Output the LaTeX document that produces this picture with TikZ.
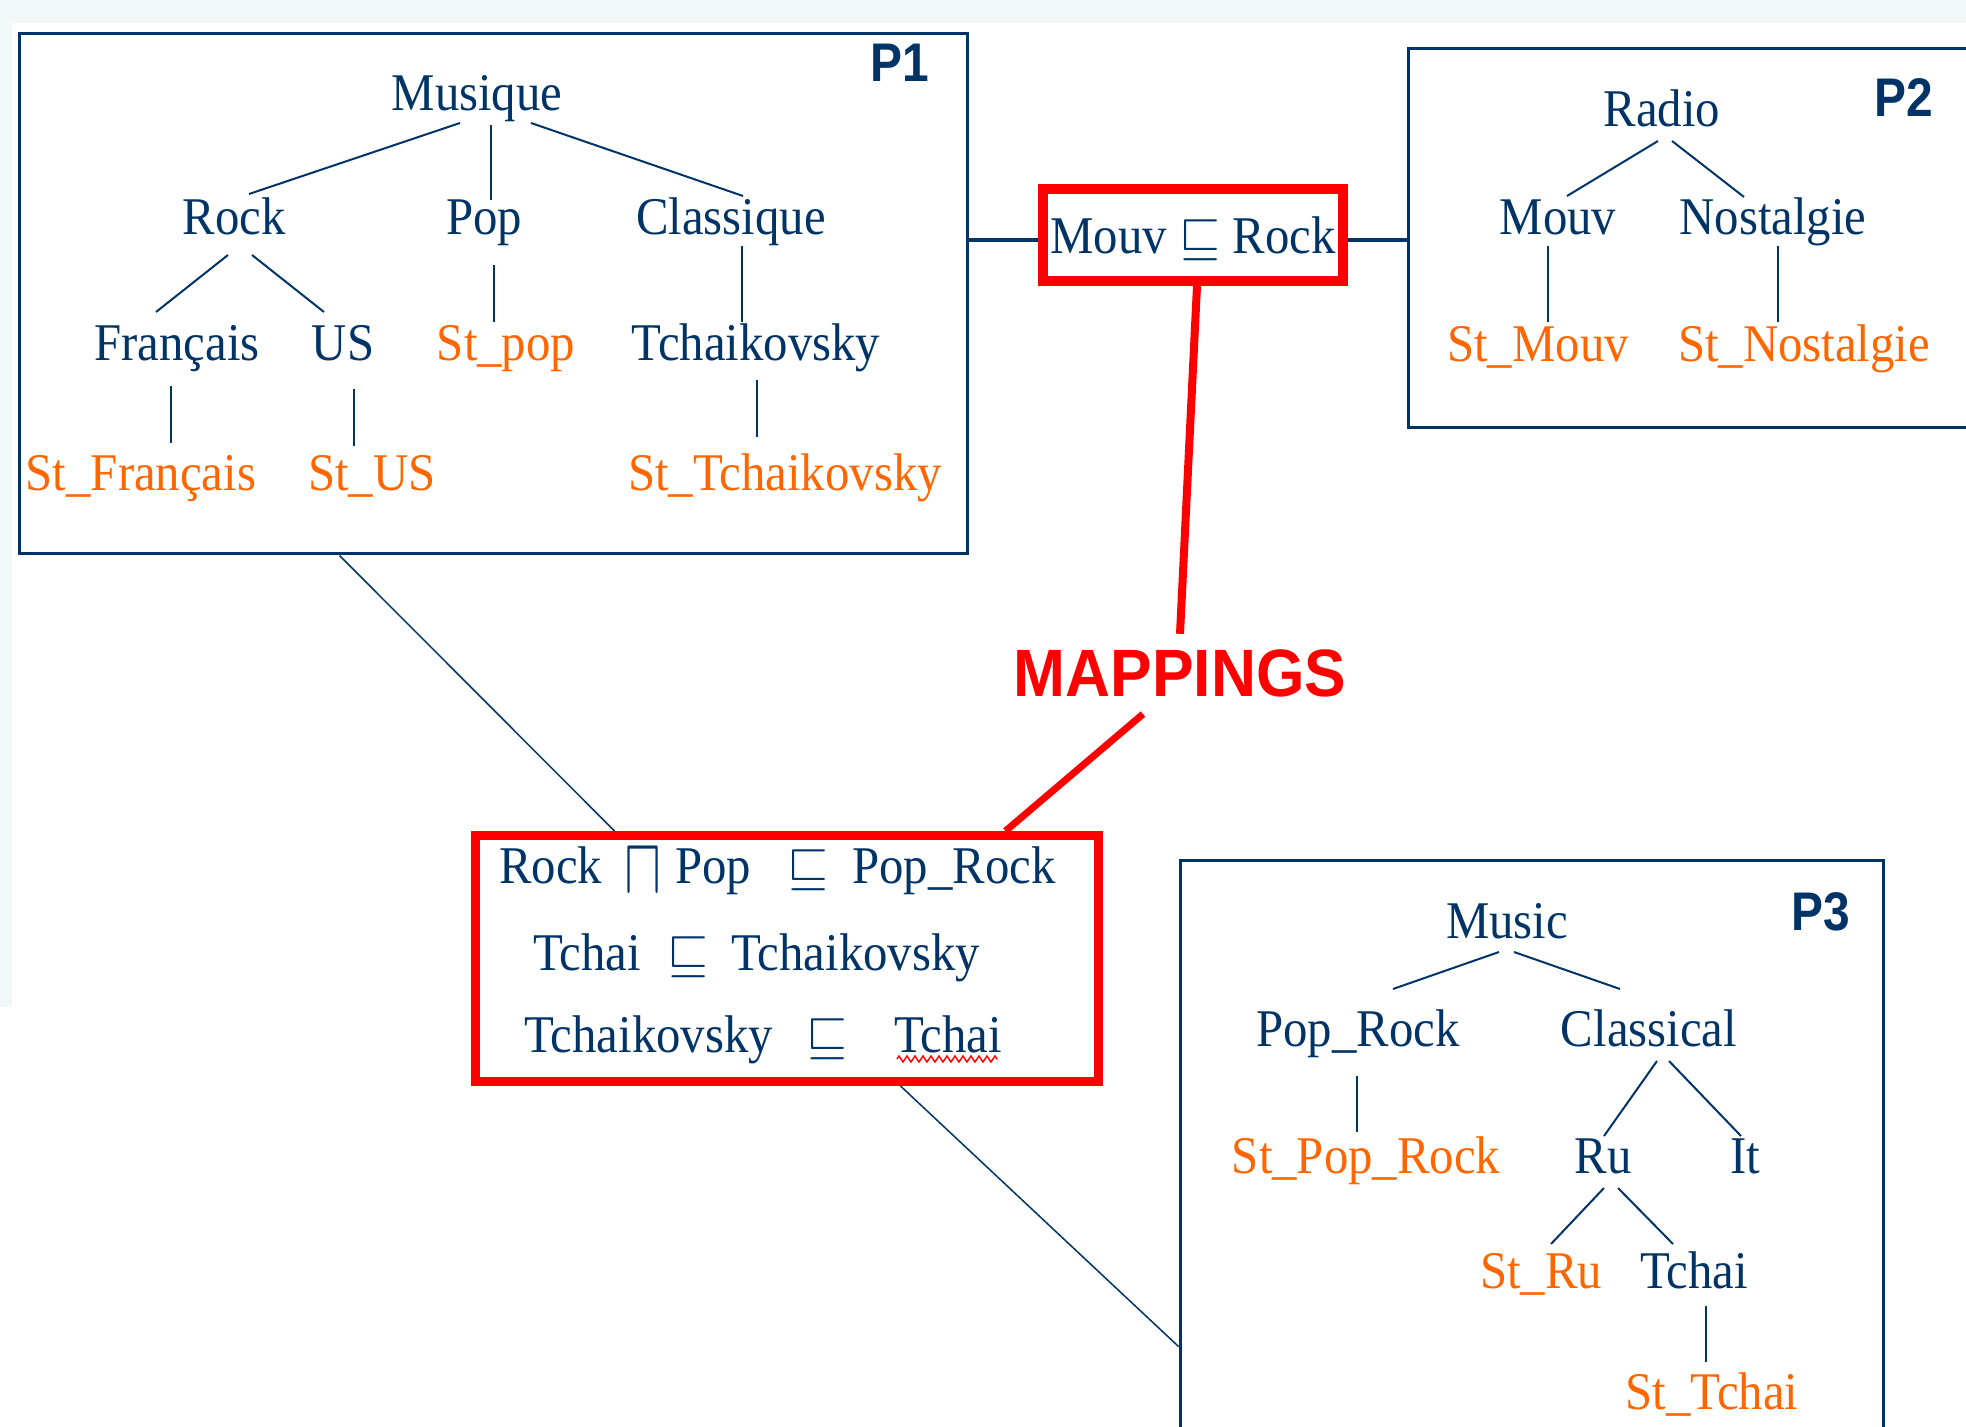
\RequirePackage{fix-cm}
\documentclass[tikz,border=0pt]{standalone}
\usepackage{fontspec}
\setmainfont{Liberation Serif}[FakeStretch=0.92]
\newfontfamily\plabfont{Liberation Sans}[FakeStretch=0.88]
\newfontfamily\mapfont{Liberation Sans}[FakeStretch=0.93]
\usetikzlibrary{backgrounds,decorations.pathmorphing}
\definecolor{navy}{RGB}{0,51,102}
\definecolor{orng}{RGB}{255,102,0}
\definecolor{bgstrip}{RGB}{242,247,247}
\begin{document}
\begin{tikzpicture}[x=0.5pt,y=-0.5pt,
  lab/.style={anchor=base, inner sep=0pt, text=navy, font=\fontsize{26.5}{30}\selectfont},
  stl/.style={lab, text=orng},
  bx/.style={lab, anchor=base west},
  edge/.style={draw=navy, line width=1pt},
  thinlink/.style={draw=navy, line width=0.75pt},
  pbox/.style={draw=navy, line width=1.5pt, inner sep=0pt},
  redbox/.style={draw=red, inner sep=0pt},
  plab/.style={anchor=base, inner sep=0pt, text=navy, font=\plabfont\bfseries\fontsize{27.2}{30}\selectfont},
  redlink/.style={draw=red, line width=4pt}
]
\useasboundingbox (0,0) rectangle (1966,1427);
\fill[bgstrip] (0,0) rectangle (1966,23);
\fill[bgstrip] (0,23) rectangle (12,1007);

% ---------- frames ----------
\node[pbox, minimum width=473.75pt, minimum height=260.25pt] (P1) at (493.25,293.75) {};
\node[pbox, minimum width=296pt, minimum height=189.5pt] (P2) at (1704,238.5) {};
\node[pbox, minimum width=351.75pt, minimum height=299.75pt] (P3) at (1531.75,1160.25) {};

\node[plab] (p1l) at (900,82) {P1};
\node[plab] (p2l) at (1904,117) {P2};
\node[plab] (p3l) at (1821,930) {P3};

% ---------- P1 tree ----------
\node[lab] (mus) at (477,111) {Musique};
\node[lab] (rock) at (234,235) {Rock};
\node[lab] (pop) at (484,235) {Pop};
\node[lab] (cla) at (731,235) {Classique};
\node[lab] (fra) at (177,361) {Français};
\node[lab] (us) at (343,361) {US};
\node[stl] (stpop) at (506,361) {St\_pop};
\node[lab] (tch) at (756,361) {Tchaikovsky};
\node[stl] (stfra) at (141,491) {St\_Français};
\node[stl] (stus) at (372,491) {St\_US};
\node[stl] (sttch) at (785,491) {St\_Tchaikovsky};

\draw[edge] ([shift={(-17,12)}]mus.base) -- ([shift={(15,-41)}]rock.base);
\draw[edge] ([shift={(14,14)}]mus.base) -- ([shift={(7,-35)}]pop.base);
\draw[edge] ([shift={(54,12)}]mus.base) -- ([shift={(12,-39)}]cla.base);
\draw[edge] ([shift={(-6,20)}]rock.base) -- ([shift={(-21,-49)}]fra.base);
\draw[edge] ([shift={(18,20)}]rock.base) -- ([shift={(-19,-49)}]us.base);
\draw[edge] ([shift={(10,30)}]pop.base) -- ([shift={(-12,-39)}]stpop.base);
\draw[edge] ([shift={(11,11)}]cla.base) -- ([shift={(-14,-39)}]tch.base);
\draw[edge] ([shift={(-6,25)}]fra.base) -- ([shift={(30,-48)}]stfra.base);
\draw[edge] ([shift={(11,28)}]us.base) -- ([shift={(-18,-45)}]stus.base);
\draw[edge] ([shift={(1,19)}]tch.base) -- ([shift={(-28,-54)}]sttch.base);

% ---------- P2 tree ----------
\node[lab] (radio) at (1662,127) {Radio};
\node[lab] (mouv) at (1558,235) {Mouv};
\node[lab] (nos) at (1773,235) {Nostalgie};
\node[stl] (stmouv) at (1538,362) {St\_Mouv};
\node[stl] (stnos) at (1804,362) {St\_Nostalgie};

\draw[edge] ([shift={(-4,14)}]radio.base) -- ([shift={(9,-39)}]mouv.base);
\draw[edge] ([shift={(10,14)}]radio.base) -- ([shift={(-29,-38)}]nos.base);
\draw[edge] ([shift={(-10,11)}]mouv.base) -- ([shift={(10,-40)}]stmouv.base);
\draw[edge] ([shift={(5,11)}]nos.base) -- ([shift={(-26,-40)}]stnos.base);

% ---------- P3 tree ----------
\node[lab] (music) at (1507,938) {Music};
\node[lab] (poprock) at (1358,1046) {Pop\_Rock};
\node[lab] (classical) at (1649,1046) {Classical};
\node[stl] (stpr) at (1366,1173) {St\_Pop\_Rock};
\node[lab] (ru) at (1603,1173) {Ru};
\node[lab] (it) at (1745,1173) {It};
\node[stl] (stru) at (1541,1288) {St\_Ru};
\node[lab] (tchai) at (1694,1288) {Tchai};
\node[stl] (sttchai) at (1712,1409) {St\_Tchai};

\draw[edge] ([shift={(-8,14)}]music.base) -- ([shift={(35,-57)}]poprock.base);
\draw[edge] ([shift={(7,14)}]music.base) -- ([shift={(-29,-57)}]classical.base);
\draw[edge] ([shift={(-1,30)}]poprock.base) -- ([shift={(-9,-41)}]stpr.base);
\draw[edge] ([shift={(8,15)}]classical.base) -- ([shift={(1,-37)}]ru.base);
\draw[edge] ([shift={(20,15)}]classical.base) -- ([shift={(-4,-37)}]it.base);
\draw[edge] ([shift={(1,15)}]ru.base) -- ([shift={(10,-44)}]stru.base);
\draw[edge] ([shift={(15,15)}]ru.base) -- ([shift={(-21,-44)}]tchai.base);
\draw[edge] ([shift={(12,18)}]tchai.base) -- ([shift={(-6,-47)}]sttchai.base);

% ---------- mapping boxes ----------
\node[redbox, line width=5pt, minimum width=150pt, minimum height=46pt,
      text height=19pt, text depth=0pt, text=navy, font=\fontsize{26.5}{30}\selectfont]
      (mr) at (1193,235) {Mouv $\sqsubseteq$ Rock};

\node[redbox, line width=4.5pt, minimum width=311.5pt, minimum height=123pt] (mb) at (787,958.5) {};

\node[bx] (b1a) at (499,883) {Rock};
\node[bx] (b1b) at (624,883) {\raisebox{-5.5pt}{\scalebox{1.05}[1.5]{$\sqcap$}}};
\node[bx] (b1c) at (675,883) {Pop};
\node[bx] (b1d) at (787,883) {$\sqsubseteq$};
\node[bx] (b1e) at (852,883) {Pop\_Rock};
\node[bx] (b2a) at (533,970) {Tchai};
\node[bx] (b2b) at (667,970) {$\sqsubseteq$};
\node[bx] (b2c) at (731,970) {Tchaikovsky};
\node[bx] (b3a) at (524,1052) {Tchaikovsky};
\node[bx] (b3b) at (806,1052) {$\sqsubseteq$};
\node[bx] (b3c) at (894,1052) {Tchai};
\draw[red, line width=0.75pt, decorate, decoration={zigzag, amplitude=1.5pt, segment length=4pt}]
  ([shift={(3,7)}]b3c.base west) -- ([shift={(-5,7)}]b3c.base east);

\node[anchor=base, inner sep=8pt, text=red, font=\mapfont\bfseries\fontsize{33.5}{36}\selectfont]
  (map) at (1180,697) {MAPPINGS};

% ---------- connectors ----------
\begin{scope}[on background layer]
  \coordinate (cy) at ([shift={(0,5)}]mr.west);
  \coordinate (cz) at ([shift={(0,5)}]mr.east);
  \draw[draw=navy, line width=2pt] (P1.east |- cy) -- (cy);
  \draw[draw=navy, line width=2pt] (cz) -- (P2.west |- cz);
  \draw[thinlink] ([shift={(321.5,0)}]P1.south west) -- ([shift={(143.5,0)}]mb.north west);
  \draw[thinlink] ([shift={(429.5,0)}]mb.south west) -- ([shift={(0,487.5)}]P3.north west);
  \draw[redlink] ([shift={(4,0)}]mr.south) -- (map.north);
  \draw[redlink, line width=3.5pt] ([shift={(-37,0)}]map.south) -- ([shift={(534.5,0)}]mb.north west);
\end{scope}
\end{tikzpicture}
\end{document}
